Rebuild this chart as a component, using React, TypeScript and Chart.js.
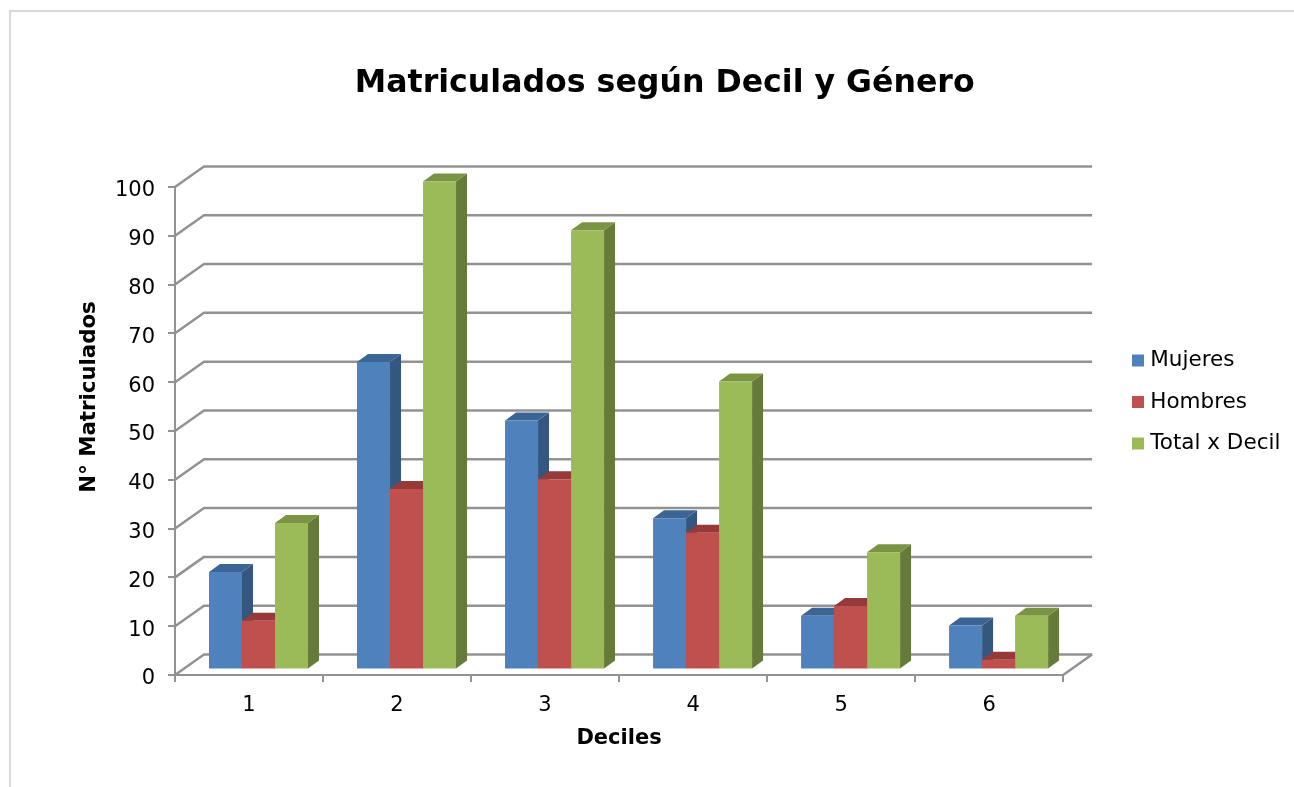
import React, { useEffect, useRef } from "react";
import { Chart, registerables } from "chart.js";

Chart.register(...registerables);

const categories = ["1", "2", "3", "4", "5", "6"];
const mujeres = [20, 63, 51, 31, 11, 9];
const hombres = [10, 37, 39, 28, 13, 2];
const totalDecil = [30, 100, 90, 59, 24, 11];

const FONT = "'DejaVu Sans', Verdana, sans-serif";
const GRID = "#929292";
const WALL_DX = 29;
const WALL_DY = 20.5;
const BAR_SHIFT_X = 9.5;
const BAR_SHIFT_Y = -5.5;
const DEPTH_X = 11;
const DEPTH_Y = 8;

const SIDE_COLORS = ["#345780", "#8a3836", "#667b39"];
const TOP_COLORS = ["#3b6594", "#953a38", "#7a9444"];

const poly = (ctx: CanvasRenderingContext2D, pts: number[][], fill: string) => {
  ctx.beginPath();
  pts.forEach((p, i) => (i ? ctx.lineTo(p[0], p[1]) : ctx.moveTo(p[0], p[1])));
  ctx.closePath();
  ctx.fillStyle = fill;
  ctx.fill();
};

const frame3d = {
  id: "frame3d",
  beforeDraw(chart: any) {
    const { ctx } = chart;
    ctx.save();
    ctx.strokeStyle = "#d9d9d9";
    ctx.lineWidth = 2;
    ctx.beginPath();
    ctx.moveTo(10, chart.height);
    ctx.lineTo(10, 11);
    ctx.lineTo(chart.width, 11);
    ctx.stroke();
    ctx.restore();
  },
  afterLayout(chart: any) {
    const legend = chart.legend;
    const w = legend.width;
    legend.left = 1136.5 - legend.options.labels.padding;
    legend.right = legend.left + w;
    const h = legend.height;
    legend.top = legend.top + 8.5;
    legend.bottom = legend.top + h;
    const y = chart.scales.y;
    if (!y.__shifted) {
      y.__shifted = true;
      const orig = y.drawTitle;
      y.drawTitle = function () {
        this.ctx.save();
        this.ctx.translate(-16, -34);
        orig.call(this);
        this.ctx.restore();
      };
    }
  },
  beforeDatasetsDraw(chart: any) {
    const { ctx, chartArea, scales } = chart;
    const { left, right } = chartArea;
    ctx.save();
    ctx.strokeStyle = GRID;
    ctx.lineWidth = 2.5;
    ctx.lineJoin = "round";
    scales.y.ticks.forEach((t: any) => {
      const y = scales.y.getPixelForValue(t.value);
      ctx.beginPath();
      ctx.moveTo(left, y);
      ctx.lineTo(left + WALL_DX, y - WALL_DY);
      ctx.lineTo(right + WALL_DX, y - WALL_DY);
      ctx.stroke();
    });
    const y0 = scales.y.getPixelForValue(0);
    ctx.beginPath();
    ctx.moveTo(right, y0);
    ctx.lineTo(right + WALL_DX, y0 - WALL_DY);
    ctx.stroke();
    ctx.restore();

    ctx.save();
    ctx.translate(BAR_SHIFT_X, BAR_SHIFT_Y);
    const n = chart.data.labels.length;
    for (let i = 0; i < n; i++) {
      chart.data.datasets.forEach((_: any, d: number) => {
        const el = chart.getDatasetMeta(d).data[i];
        const x0 = el.x - el.width / 2;
        const x1 = el.x + el.width / 2;
        const top = el.y;
        const base = el.base;
        poly(ctx, [[x1, top], [x1 + DEPTH_X, top - DEPTH_Y], [x1 + DEPTH_X, base - DEPTH_Y], [x1, base]], SIDE_COLORS[d]);
        poly(ctx, [[x0, top], [x0 + DEPTH_X, top - DEPTH_Y], [x1 + DEPTH_X, top - DEPTH_Y], [x1, top]], TOP_COLORS[d]);
      });
    }
  },
  afterDatasetsDraw(chart: any) {
    chart.ctx.restore();
  },
};

export default function App() {
  const ref = useRef<HTMLCanvasElement>(null);
  useEffect(() => {
    document.body.style.margin = "0";
    const chart = new Chart(ref.current as HTMLCanvasElement, {
      type: "bar",
      data: {
        labels: categories,
        datasets: [
          { label: "Mujeres", data: mujeres, backgroundColor: "#4f81bd", clip: false },
          { label: "Hombres", data: hombres, backgroundColor: "#c0504d", clip: false },
          { label: "Total x Decil", data: totalDecil, backgroundColor: "#9bbb59", clip: false },
        ] as any,
      },
      options: {
        animation: false,
        responsive: false,
        layout: { padding: { left: 92.5, right: 57, top: 0, bottom: 0 } },
        datasets: { bar: { categoryPercentage: 99 / 148, barPercentage: 1 } },
        plugins: {
          tooltip: { enabled: false },
          title: {
            display: true,
            text: "Matriculados según Decil y Género",
            color: "#000",
            font: { family: FONT, size: 31.6, weight: "bold" },
            padding: { top: 65, bottom: 84 },
          },
          legend: {
            position: "right",
            labels: {
              color: "#000",
              font: { family: FONT, size: 21.5 },
              boxWidth: 3,
              boxHeight: 12,
              usePointStyle: true,
              pointStyle: "rect",
              padding: 20,
            },
          },
        },
        scales: {
          x: {
            offset: true,
            grid: { offset: true, drawOnChartArea: false, drawTicks: true, tickLength: 7, color: GRID, lineWidth: 2 },
            border: { color: GRID, width: 2 },
            ticks: { color: "#000", font: { family: FONT, size: 21 }, padding: 11, maxRotation: 0 },
            title: {
              display: true,
              text: "Deciles",
              color: "#000",
              font: { family: FONT, size: 21, weight: "bold" },
              padding: { top: 0, bottom: 36 },
            },
            afterFit(s: any) {
              s.height = 112;
            },
          },
          y: {
            min: 0,
            max: 100,
            ticks: { stepSize: 10, color: "#000", font: { family: FONT, size: 21 }, padding: 13, labelOffset: 4 },
            grid: { drawOnChartArea: false, drawTicks: true, tickLength: 7, color: GRID, lineWidth: 2 },
            border: { color: GRID, width: 2 },
            title: {
              display: true,
              text: "N° Matriculados",
              color: "#000",
              font: { family: FONT, size: 21.3, weight: "bold" },
              padding: { top: 0, bottom: 0 },
            },
            afterFit(s: any) {
              s.width = 82.5;
            },
          },
        },
      } as any,
      plugins: [frame3d],
    });
    return () => chart.destroy();
  }, []);
  return (
    <canvas
      ref={ref}
      width={1294}
      height={787}
      style={{ display: "block", width: 1294, height: 787 }}
    />
  );
}
